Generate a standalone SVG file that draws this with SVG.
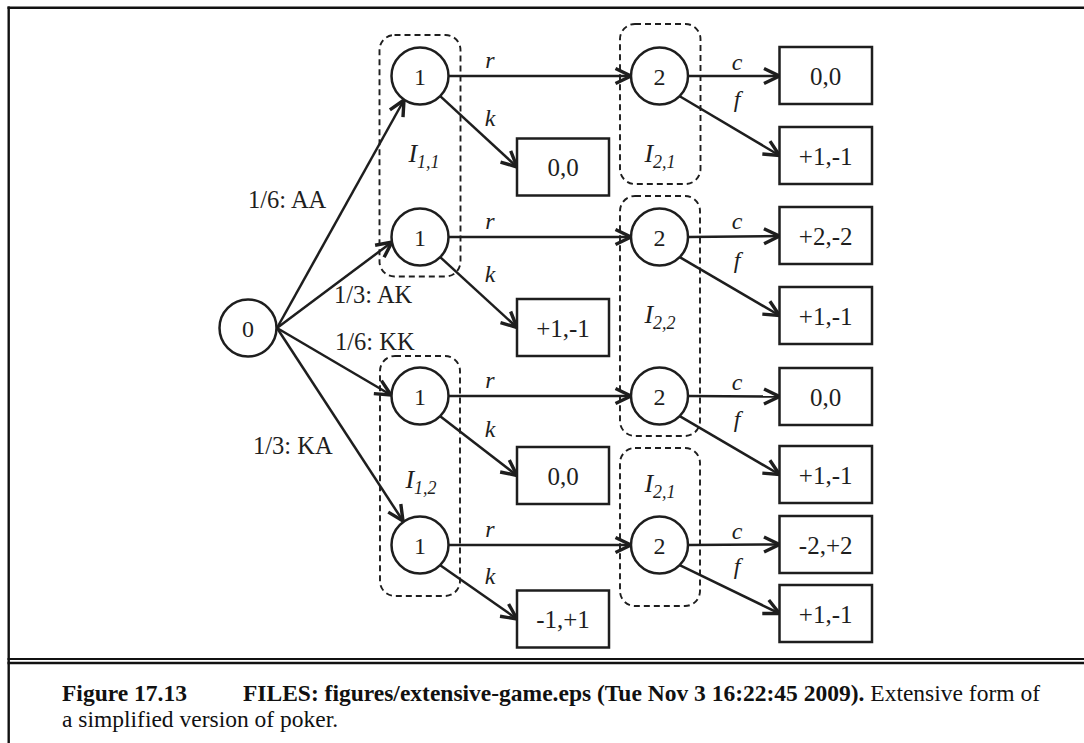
<svg xmlns="http://www.w3.org/2000/svg" width="1084" height="743" viewBox="0 0 1084 743">
<style>
.nd{fill:#fff;stroke:#1e1e1e;stroke-width:2.5}
.bx{fill:#fff;stroke:#1e1e1e;stroke-width:2.5}
.is{fill:none;stroke:#1e1e1e;stroke-width:1.9;stroke-dasharray:6 4}
.e{fill:none;stroke:#1e1e1e;stroke-width:2.5;marker-end:url(#ah)}
.t{font-family:"Liberation Serif","Times New Roman",serif;fill:#1e1e1e}
.nl{font-size:24px;text-anchor:middle}
.bl{font-size:25px;text-anchor:middle}
.el{font-size:24px;font-style:italic;text-anchor:middle}
.pl{font-size:24.5px}
.il{font-size:26px;font-style:italic;text-anchor:middle}
.cap{font-size:23.5px;fill:#111}
.fr{stroke:#111;fill:none}
</style>
<defs>
<marker id="ah" markerUnits="userSpaceOnUse" markerWidth="24" markerHeight="22" viewBox="-18 -11 21 22" refX="0" refY="0" orient="auto">
<path d="M-15.5,-7.5 L0,0 L-15.5,7.5" fill="none" stroke="#1e1e1e" stroke-width="3.4" stroke-linejoin="miter"/>
</marker>
</defs>
<rect width="1084" height="743" fill="#fff"/>
<g id="frame">
<line class="fr" x1="8.7" y1="6.6" x2="8.7" y2="743" stroke-width="2.4"/>
<line class="fr" x1="7.5" y1="7.8" x2="1084" y2="7.8" stroke-width="2.4"/>
<line class="fr" x1="7.5" y1="659" x2="1084" y2="659" stroke-width="1.8"/>
<line class="fr" x1="7.5" y1="663" x2="1084" y2="663" stroke-width="2.4"/>
</g>
<g id="infosets">
<rect id="I11" class="is" x="379.5" y="35" width="81" height="241.5" rx="15"/>
<rect id="I21a" class="is" x="620" y="24" width="80.5" height="160" rx="15"/>
<rect id="I22" class="is" x="620" y="196" width="80" height="240" rx="15"/>
<rect id="I12" class="is" x="380" y="356" width="80" height="240" rx="15"/>
<rect id="I21b" class="is" x="620" y="448" width="80" height="158" rx="15"/>
</g>
<g id="connectors">
<line class="e" x1="277" y1="328" x2="404" y2="100"/>
<line class="e" x1="277" y1="328" x2="392" y2="242"/>
<line class="e" x1="277" y1="328" x2="391" y2="395"/>
<line class="e" x1="277" y1="328" x2="403" y2="521"/>
<line class="e" x1="448.5" y1="76" x2="631" y2="76"/>
<line class="e" x1="448.5" y1="237" x2="631" y2="237"/>
<line class="e" x1="448.5" y1="396" x2="631" y2="396"/>
<line class="e" x1="448.5" y1="545" x2="631" y2="545"/>
<line class="e" x1="440.2" y1="96.2" x2="517" y2="167"/>
<line class="e" x1="440.2" y1="257.2" x2="517" y2="327.5"/>
<line class="e" x1="440.2" y1="416.2" x2="517" y2="475.5"/>
<line class="e" x1="440.2" y1="565.2" x2="517" y2="619"/>
<line class="e" x1="688" y1="76" x2="779.5" y2="76"/>
<line class="e" x1="688" y1="237" x2="779.5" y2="236"/>
<line class="e" x1="688" y1="396" x2="779.5" y2="396.5"/>
<line class="e" x1="688" y1="545" x2="779.5" y2="544.5"/>
<line class="e" x1="679.7" y1="96.2" x2="779.5" y2="155.5"/>
<line class="e" x1="679.7" y1="257.2" x2="779.5" y2="315.5"/>
<line class="e" x1="679.7" y1="416.2" x2="779.5" y2="474.5"/>
<line class="e" x1="679.7" y1="565.2" x2="779.5" y2="613.5"/>
</g>
<g id="edge-labels" class="t">
<text class="pl" x="248" y="208">1/6: AA</text>
<text class="pl" x="334" y="303">1/3: AK</text>
<text class="pl" x="335" y="350">1/6: KK</text>
<text class="pl" x="253" y="454">1/3: KA</text>
<text class="el" x="490" y="68">r</text>
<text class="el" x="490" y="229">r</text>
<text class="el" x="490" y="388">r</text>
<text class="el" x="490" y="537">r</text>
<text class="el" x="490" y="126">k</text>
<text class="el" x="490" y="282">k</text>
<text class="el" x="490" y="437">k</text>
<text class="el" x="490" y="584">k</text>
<text class="el" x="737" y="70">c</text>
<text class="el" x="737" y="229">c</text>
<text class="el" x="737" y="390">c</text>
<text class="el" x="737" y="539">c</text>
<text class="el" x="737" y="107">f</text>
<text class="el" x="737" y="268">f</text>
<text class="el" x="737" y="427">f</text>
<text class="el" x="737" y="574">f</text>
</g>
<g id="infoset-labels" class="t">
<text class="il" x="424" y="162">I<tspan font-size="18" dy="6">1,1</tspan></text>
<text class="il" x="660" y="162">I<tspan font-size="18" dy="6">2,1</tspan></text>
<text class="il" x="660" y="323">I<tspan font-size="18" dy="6">2,2</tspan></text>
<text class="il" x="421" y="488">I<tspan font-size="18" dy="6">1,2</tspan></text>
<text class="il" x="660" y="492">I<tspan font-size="18" dy="6">2,1</tspan></text>
</g>
<g id="n0"><circle class="nd" cx="248" cy="328" r="28.5"/><text class="t nl" x="248" y="336.5">0</text></g>
<g id="n1a"><circle class="nd" cx="420" cy="76" r="28.5"/><text class="t nl" x="420" y="84.5">1</text></g>
<g id="n1b"><circle class="nd" cx="420" cy="237" r="28.5"/><text class="t nl" x="420" y="245.5">1</text></g>
<g id="n1c"><circle class="nd" cx="420" cy="396" r="28.5"/><text class="t nl" x="420" y="404.5">1</text></g>
<g id="n1d"><circle class="nd" cx="420" cy="545" r="28.5"/><text class="t nl" x="420" y="553.5">1</text></g>
<g id="n2a"><circle class="nd" cx="659.5" cy="76" r="28.5"/><text class="t nl" x="659.5" y="84.5">2</text></g>
<g id="n2b"><circle class="nd" cx="659.5" cy="237" r="28.5"/><text class="t nl" x="659.5" y="245.5">2</text></g>
<g id="n2c"><circle class="nd" cx="659.5" cy="396" r="28.5"/><text class="t nl" x="659.5" y="404.5">2</text></g>
<g id="n2d"><circle class="nd" cx="659.5" cy="545" r="28.5"/><text class="t nl" x="659.5" y="553.5">2</text></g>
<g id="k1"><rect class="bx" x="517" y="138.5" width="92" height="57"/><text class="t bl" x="563" y="176">0,0</text></g>
<g id="k2"><rect class="bx" x="517" y="299" width="92" height="57"/><text class="t bl" x="563" y="336.5">+1,-1</text></g>
<g id="k3"><rect class="bx" x="517" y="447" width="92" height="57"/><text class="t bl" x="563" y="484.5">0,0</text></g>
<g id="k4"><rect class="bx" x="517" y="590.5" width="92" height="57"/><text class="t bl" x="563" y="628">-1,+1</text></g>
<g id="c1"><rect class="bx" x="779.5" y="47" width="92.5" height="57"/><text class="t bl" x="825.7" y="84.5">0,0</text></g>
<g id="f1"><rect class="bx" x="779.5" y="127" width="92.5" height="57"/><text class="t bl" x="825.7" y="164.5">+1,-1</text></g>
<g id="c2"><rect class="bx" x="779.5" y="207" width="92.5" height="57"/><text class="t bl" x="825.7" y="244.5">+2,-2</text></g>
<g id="f2"><rect class="bx" x="779.5" y="287" width="92.5" height="57"/><text class="t bl" x="825.7" y="324.5">+1,-1</text></g>
<g id="c3"><rect class="bx" x="779.5" y="368" width="92.5" height="57"/><text class="t bl" x="825.7" y="405.5">0,0</text></g>
<g id="f3"><rect class="bx" x="779.5" y="446" width="92.5" height="57"/><text class="t bl" x="825.7" y="483.5">+1,-1</text></g>
<g id="c4"><rect class="bx" x="779.5" y="516" width="92.5" height="57"/><text class="t bl" x="825.7" y="553.5">-2,+2</text></g>
<g id="f4"><rect class="bx" x="779.5" y="585" width="92.5" height="57"/><text class="t bl" x="825.7" y="622.5">+1,-1</text></g>
<g id="caption" class="t cap">
<text x="62" y="701" font-weight="bold">Figure 17.13</text>
<text x="243" y="701"><tspan font-weight="bold">FILES: figures/extensive-game.eps (Tue Nov 3 16:22:45 2009).</tspan> Extensive form of</text>
<text x="62" y="727">a simplified version of poker.</text>
</g>
</svg>
